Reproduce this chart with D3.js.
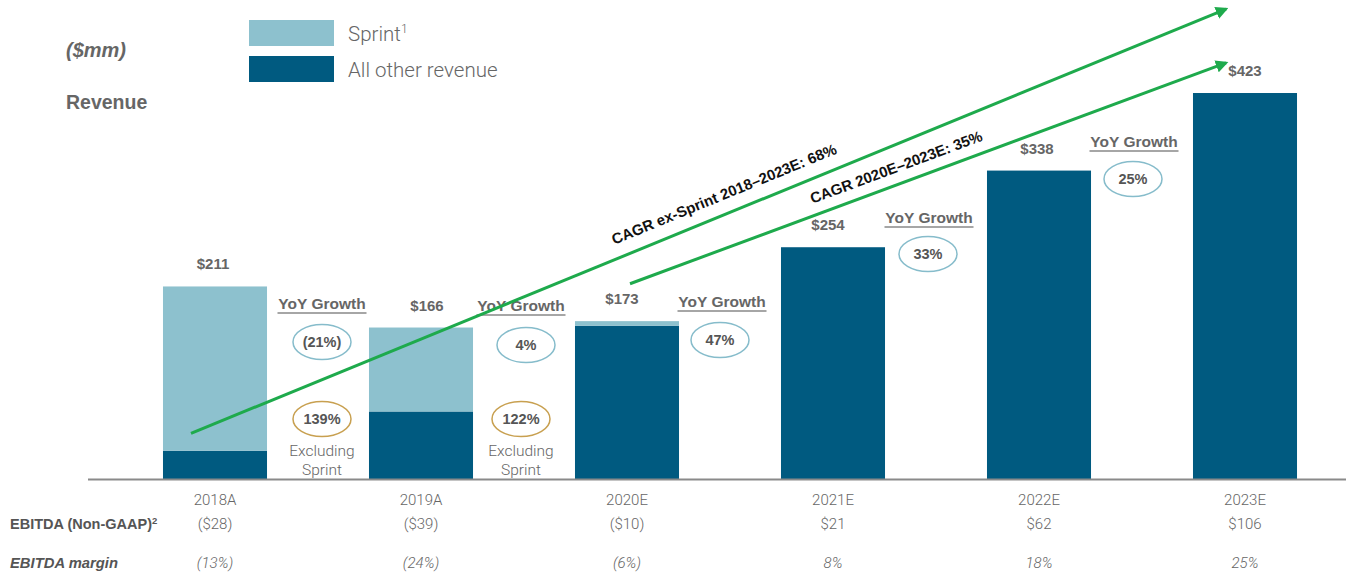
<!DOCTYPE html>
<html><head><meta charset="utf-8">
<script src="https://cdn.jsdelivr.net/npm/d3@7/dist/d3.min.js"></script>
<style>body{margin:0;background:#fff}svg{display:block}text{font-family:Roboto,"Liberation Sans",Arial,sans-serif}.b{font-family:"Liberation Sans",Arial,sans-serif;font-weight:700}</style>
</head><body><svg id="c" width="1346" height="577"></svg>
<script>
const categories = ["2018A","2019A","2020E","2021E","2022E","2023E"];
const sprint     = [180, 92, 5, 0, 0, 0];
const otherRev   = [31, 74, 168, 254, 338, 423];
const totals     = ["$211","$166","$173","$254","$338","$423"];
const ebitda     = ["($28)","($39)","($10)","$21","$62","$106"];
const margins    = ["(13%)","(24%)","(6%)","8%","18%","25%"];
const yoy        = ["(21%)","4%","47%","33%","25%"];
const yoyExSprint= ["139%","122%"];
const cagrLabels = ["CAGR ex-Sprint 2018–2023E: 68%","CAGR 2020E–2023E: 35%"];

const C_SPRINT="#8DC1CE", C_OTHER="#005A80", GREY="#666", GREEN="#1EAA4C";
const svg=d3.select("#c");
const base=479;
const x=d3.scaleBand().domain(categories).range([112,1348]).paddingInner(0.495).paddingOuter(0.2475);
const y=d3.scaleLinear().domain([0,500]).range([base, base-456.25]);
const xc=c=>x(c)+x.bandwidth()/2;

svg.append("defs").append("marker").attr("id","ah").attr("viewBox","0 0 10 10").attr("refX",8).attr("refY",5)
 .attr("markerWidth",4.2).attr("markerHeight",4.2).attr("orient","auto")
 .append("path").attr("d","M0,0 L10,5 L0,10 Z").attr("fill",GREEN);

// stacked bars
const stackData=categories.map((c,i)=>({cat:c,other:otherRev[i],sprint:sprint[i]}));
const series=d3.stack().keys(["other","sprint"])(stackData);
const colors={other:C_OTHER,sprint:C_SPRINT};
svg.append("g").selectAll("g").data(series).join("g").attr("fill",d=>colors[d.key])
 .selectAll("rect").data(d=>d).join("rect")
 .attr("x",d=>x(d.data.cat)).attr("width",x.bandwidth())
 .attr("y",d=>y(d[1])).attr("height",d=>y(d[0])-y(d[1]));

svg.append("line").attr("x1",88).attr("x2",1346).attr("y1",base+0.5).attr("y2",base+0.5).attr("stroke","#8a8a8a").attr("stroke-width",2);

const ax=svg.append("g").attr("transform",`translate(0,${base})`).call(d3.axisBottom(x).tickSize(0).tickPadding(15));
ax.select(".domain").remove();
ax.selectAll("text").attr("font-size",15).attr("fill",GREY).attr("font-weight",300).attr("font-family","Roboto");

const totVals=categories.map((c,i)=>otherRev[i]+sprint[i]);
const lblOff=[-2,6,-5,-5,-2,0];
svg.append("g").selectAll("text").data(categories).join("text").attr("class","b")
 .attr("x",(c,i)=>xc(c)+lblOff[i]).attr("y",(c,i)=>y(totVals[i])-17)
 .attr("text-anchor","middle").attr("font-size",15).attr("fill",GREY)
 .text((c,i)=>totals[i]);

const yoyPos=categories.slice(1).map((c,i)=>({mx:(xc(categories[i])+xc(c))/2}));
const yoyLabelY=[309,311,307,223,147];
const yoyDx=[4,-3,-8,-7,-8];
const ellDx=[4,2,-10,-8,-9];
const ellY=[342,345,340,254,179];
const g=svg.append("g");
yoy.forEach((v,i)=>{
  const lx=yoyPos[i].mx+yoyDx[i];
  g.append("text").attr("class","b").attr("x",lx).attr("y",yoyLabelY[i]).attr("text-anchor","middle")
   .attr("font-size",15.5).attr("fill",GREY).text("YoY Growth");
  g.append("line").attr("x1",lx-44.5).attr("x2",lx+44.5).attr("y1",yoyLabelY[i]+4).attr("y2",yoyLabelY[i]+4).attr("stroke","#888").attr("stroke-width",1.3);
  const ex=yoyPos[i].mx+ellDx[i];
  g.append("ellipse").attr("cx",ex).attr("cy",ellY[i]).attr("rx",29).attr("ry",17.5).attr("fill","none").attr("stroke","#86BCCB").attr("stroke-width",1.5);
  g.append("text").attr("class","b").attr("x",ex).attr("y",ellY[i]+5).attr("text-anchor","middle").attr("font-size",14.5).attr("fill","#555").text(v);
});
yoyExSprint.forEach((v,i)=>{
  const ex=yoyPos[i].mx+(i===0?4:-3);
  g.append("ellipse").attr("cx",ex).attr("cy",419).attr("rx",29).attr("ry",17.5).attr("fill","none").attr("stroke","#C8A050").attr("stroke-width",1.5);
  g.append("text").attr("class","b").attr("x",ex).attr("y",424).attr("text-anchor","middle").attr("font-size",14.5).attr("fill","#555").text(v);
  g.append("text").attr("x",ex).attr("y",456).attr("text-anchor","middle").attr("font-size",15.5).attr("font-weight",300).attr("fill",GREY).text("Excluding");
  g.append("text").attr("x",ex).attr("y",475).attr("text-anchor","middle").attr("font-size",15.5).attr("font-weight",300).attr("fill",GREY).text("Sprint");
});

const arrows=[
 {x1:xc("2018A")-24,v1:50,x2:xc("2023E")-19,v2:515,lx:726,ly:199},
 {x1:xc("2020E")+3,v1:214,x2:xc("2023E")-19,v2:456,lx:898,ly:172}
];
arrows.forEach((a,i)=>{
  const X1=a.x1,Y1=y(a.v1),X2=a.x2,Y2=y(a.v2);
  svg.append("line").attr("x1",X1).attr("y1",Y1).attr("x2",X2).attr("y2",Y2)
   .attr("stroke",GREEN).attr("stroke-width",3).attr("marker-end","url(#ah)");
  const ang=Math.atan2(Y2-Y1,X2-X1)*180/Math.PI;
  svg.append("text").attr("class","b").attr("transform",`translate(${a.lx},${a.ly}) rotate(${ang})`)
   .attr("text-anchor","middle").attr("font-size",15).attr("fill","#111").text(cagrLabels[i]);
});

svg.append("text").attr("class","b").attr("x",66).attr("y",57).attr("font-size",20).attr("font-style","italic").attr("fill",GREY).text("($mm)");
svg.append("text").attr("class","b").attr("x",66).attr("y",109).attr("font-size",19.5).attr("fill",GREY).text("Revenue");

const leg=[{k:"Sprint",sup:"1",c:C_SPRINT,y:20},{k:"All other revenue",sup:"",c:C_OTHER,y:56}];
leg.forEach(l=>{
  svg.append("rect").attr("x",249).attr("y",l.y).attr("width",85).attr("height",26).attr("fill",l.c);
  const t=svg.append("text").attr("x",348).attr("y",l.y+21).attr("font-size",20.5).attr("font-weight",300).attr("fill",GREY).text(l.k);
  if(l.sup) t.append("tspan").attr("font-size",12).attr("dy",-8).text(l.sup);
});

const r1=svg.append("text").attr("class","b").attr("x",10).attr("y",529).attr("font-size",14.5).attr("fill","#555").text("EBITDA (Non-GAAP)");
r1.append("tspan").attr("font-size",9.5).attr("dy",-5).text("2");
svg.append("text").attr("class","b").attr("x",10).attr("y",568).attr("font-size",14.8).attr("font-style","italic").attr("fill","#555").text("EBITDA margin");
svg.append("g").selectAll("text").data(categories).join("text").attr("x",c=>xc(c)).attr("y",529)
 .attr("text-anchor","middle").attr("font-size",15).attr("font-weight",300).attr("fill",GREY).text((c,i)=>ebitda[i]);
svg.append("g").selectAll("text").data(categories).join("text").attr("x",c=>xc(c)).attr("y",568)
 .attr("text-anchor","middle").attr("font-size",15).attr("font-weight",300).attr("font-style","italic").attr("fill",GREY).text((c,i)=>margins[i]);
</script></body></html>
